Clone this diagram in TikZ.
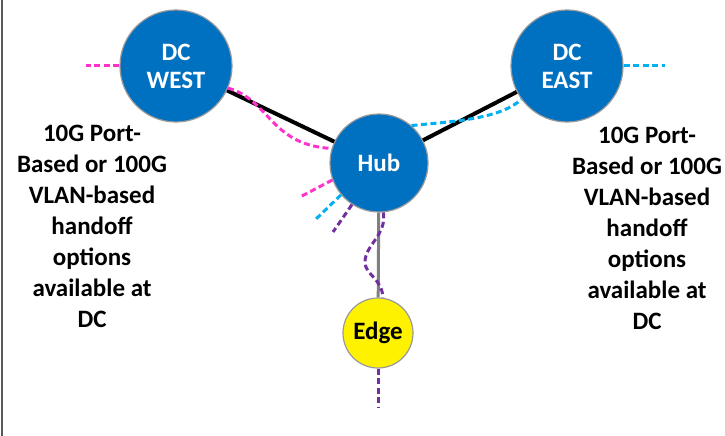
\documentclass[tikz,border=0pt]{standalone}
\usepackage{fontspec}
\setmainfont{Carlito}
\definecolor{siteblue}{HTML}{0070C0}
\definecolor{linkpink}{HTML}{FF33CC}
\definecolor{linkcyan}{HTML}{00B0F0}
\definecolor{linkpurple}{HTML}{7030A0}

\begin{document}
\begin{tikzpicture}[x=1pt, y=-1pt,
    site/.style={circle, draw=gray!80, line width=1.2pt, inner sep=0pt, align=center,
      font=\bfseries\fontsize{25}{28}\selectfont},
    dc/.style={site, fill=siteblue, text=white, minimum size=112pt},
    note/.style={align=center, font=\bfseries\fontsize{25}{31}\selectfont},
    trunk/.style={line width=4pt},
    vlan/.style={line width=3pt, dash pattern=on 6pt off 3.5pt}]
  \useasboundingbox (0,0) rectangle (725,436);
  \draw[gray!70!black, line width=2pt] (2,0) -- (2,436);

  \node[dc] (dcwest) at (176,66) {DC\\WEST};
  \node[dc] (dceast) at (567,66) {DC\\EAST};
  \node[site, fill=siteblue, text=white, minimum size=98pt] (hub) at (379,163) {Hub};
  \node[site, fill=yellow, text=black, minimum size=70pt] (edge) at (378,333) {Edge};

  \node[note] (westnote) at (92,226) {10G Port-\\Based or 100G\\VLAN-based\\handoff\\options\\available at\\DC};
  \node[note] (eastnote) at (647,228) {10G Port-\\Based or 100G\\VLAN-based\\handoff\\options\\available at\\DC};

  \draw[trunk] (dcwest) -- (hub);
  \draw[trunk] (dceast) -- (hub);
  \draw[gray, line width=3pt] (hub) -- (edge);

  \coordinate (westend) at (86,66);
  \coordinate (eastend) at (665,66);
  \coordinate (pinkend) at (300,197);
  \coordinate (cyanend) at (315,220);
  \coordinate (purpleend) at (333,232);
  \coordinate (edgeend) at (378,408);

  \draw[vlan, linkpink] (dcwest.180) -- (westend);
  \draw[vlan, linkpink] (dcwest.-23) .. controls (270,100) and (270,145) .. (hub.163);
  \draw[vlan, linkpink] (hub.200) -- (pinkend);
  \draw[vlan, linkcyan] (dceast.0) -- (eastend);
  \draw[vlan, linkcyan] (hub.49) .. controls (445,122) and (500,120) .. (dceast.-144);
  \draw[vlan, linkcyan] (hub.220) -- (cyanend);
  \draw[vlan, linkpurple] (hub.237) -- (purpleend);
  \draw[vlan, linkpurple] (hub.-85) .. controls (387,235) and (365,245) .. (365,262)
    .. controls (365,275) and (382,278) .. (edge.82);
  \draw[vlan, linkpurple] (edge.-90) -- (edgeend);
\end{tikzpicture}
\end{document}
